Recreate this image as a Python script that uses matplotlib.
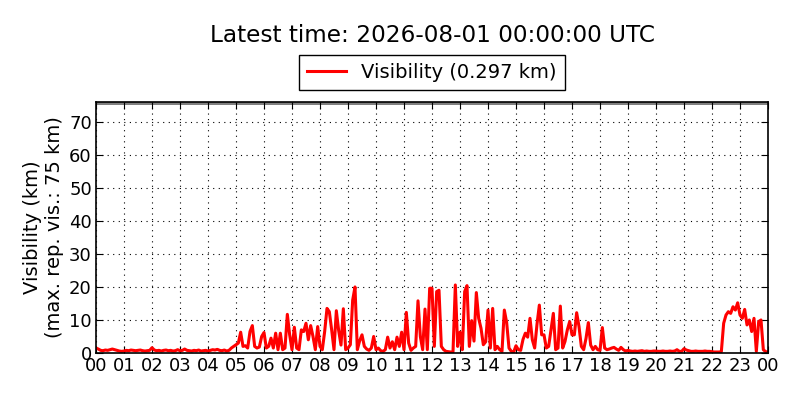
import matplotlib
matplotlib.use("Agg")
import matplotlib.pyplot as plt
import matplotlib.dates as mdates
import pandas as pd

# Visibility (km), 5-minute steps, one row per hour
vis_km = [
    1.5, 1.2, 0.8, 0.7, 0.9, 0.8, 1.0, 1.2, 1.0, 0.8, 0.6, 0.5,      # 00
    0.6, 0.8, 0.7, 0.9, 0.8, 0.7, 0.8, 0.9, 0.7, 0.6, 0.7, 0.8,      # 01
    1.6, 0.9, 0.7, 0.8, 0.6, 0.8, 0.9, 0.7, 0.8, 0.6, 0.7, 1.0,      # 02
    0.7, 0.8, 1.2, 0.8, 0.7, 0.6, 0.8, 0.7, 0.9, 0.6, 0.7, 0.8,      # 03
    0.6, 0.8, 1.0, 0.9, 1.1, 0.8, 0.7, 0.9, 0.6, 0.8, 1.5, 2.0,      # 04
    2.5, 3.0, 6.3, 2.0, 2.2, 1.5, 6.5, 8.3, 2.0, 1.5, 1.8, 5.0,      # 05
    6.2, 1.5, 2.0, 4.5, 1.5, 6.0, 1.0, 6.0, 1.0, 1.5, 11.7, 5.5,     # 06
    1.0, 7.8, 1.5, 1.0, 7.0, 6.5, 9.0, 4.0, 8.3, 5.0, 1.0, 8.0,      # 07
    2.0, 1.0, 6.5, 13.5, 12.5, 7.0, 1.0, 12.8, 6.8, 2.4, 13.4, 1.0,  # 08
    1.5, 2.5, 16.0, 20.0, 1.0, 3.7, 5.5, 2.0, 1.2, 0.8, 1.5, 5.0,    # 09
    1.0, 1.5, 0.7, 0.5, 1.0, 4.8, 1.5, 3.4, 1.0, 4.8, 2.0, 6.3,      # 10
    1.0, 12.3, 3.0, 0.8, 1.5, 2.0, 15.8, 5.0, 1.0, 13.3, 1.0, 19.6,  # 11
    19.6, 2.0, 18.6, 19.0, 2.0, 1.0, 0.5, 0.4, 0.3, 0.3, 20.6, 2.0,  # 12
    6.3, 1.0, 18.6, 20.4, 2.0, 9.8, 3.6, 18.3, 10.5, 7.5, 2.5, 3.4,  # 13
    13.0, 1.5, 13.5, 1.0, 2.0, 1.0, 0.5, 13.0, 9.2, 1.5, 0.5, 0.3,   # 14
    2.2, 1.0, 0.8, 4.1, 6.0, 4.8, 10.5, 4.0, 1.5, 8.7, 14.5, 5.5,    # 15
    5.5, 1.5, 2.0, 7.0, 12.0, 1.0, 1.5, 14.2, 1.5, 3.5, 7.0, 9.5,    # 16
    5.5, 5.5, 12.2, 8.0, 2.0, 1.0, 4.4, 9.2, 2.4, 1.0, 2.0, 1.0,     # 17
    0.8, 7.7, 1.5, 1.0, 1.2, 1.5, 1.7, 1.2, 0.8, 1.7, 1.0, 0.6,      # 18
    0.8, 0.6, 0.5, 0.6, 0.5, 0.6, 0.7, 0.5, 0.6, 0.5, 0.5, 0.6,      # 19
    0.6, 0.5, 0.5, 0.6, 0.5, 0.5, 0.6, 0.5, 0.6, 1.0, 0.5, 0.5,      # 20
    1.3, 0.9, 0.7, 0.5, 0.5, 0.6, 0.5, 0.5, 0.5, 0.6, 0.5, 0.5,      # 21
    0.4, 0.3, 0.3, 0.3, 0.4, 9.0, 11.5, 12.5, 12.0, 14.0, 13.0, 15.2,  # 22
    11.5, 10.5, 13.2, 8.5, 10.0, 6.5, 10.5, 0.5, 9.5, 10.0, 1.0, 0.4,  # 23
    0.297,                                                            # 00 next day
]
times = pd.date_range("2026-07-31 00:00", periods=len(vis_km), freq="5min")

latest_time = "2026-08-01 00:00:00"
max_rep_vis = 75
y_ticks = [0, 10, 20, 30, 40, 50, 60, 70]

plt.rcParams["font.family"] = "DejaVu Sans"

fig = plt.figure(figsize=(8, 4), dpi=100)
ax = fig.add_axes([0.12, 0.1175, 0.84, 0.6275])

ax.plot(times, vis_km, color="red", lw=2.2,
        label=f"Visibility ({vis_km[-1]:.3f} km)")
ax.axhspan(max_rep_vis, max_rep_vis + 1, color="0.5", lw=0)

ax.set_xlim(times[0], times[-1])
ax.set_ylim(0, max_rep_vis + 1)
ax.set_yticks(y_ticks)
ax.xaxis.set_major_locator(mdates.HourLocator())
ax.xaxis.set_major_formatter(mdates.DateFormatter("%H"))

ax.tick_params(direction="in", top=True, right=True, length=5,
               labelsize=13, pad=3)
ax.grid(True, color="black", linestyle=(0, (1, 4)), lw=0.8)
for spine in ax.spines.values():
    spine.set_linewidth(1.2)

ax.set_ylabel(f"Visibility (km)\n(max. rep. vis.: {max_rep_vis} km)",
              fontsize=14, linespacing=1.2)

# title centred over the axes, not the figure
fig.text(0.54, 0.912, f"Latest time: {latest_time} UTC", fontsize=16.7,
         ha="center", va="center")
leg = ax.legend(loc="lower center", bbox_to_anchor=(0.5, 1.01), fontsize=14,
                fancybox=False, edgecolor="black", framealpha=1,
                handlelength=2.0, borderpad=0.4)
leg.get_frame().set_linewidth(1.0)

fig.savefig("out.png", dpi=100, facecolor="white")
